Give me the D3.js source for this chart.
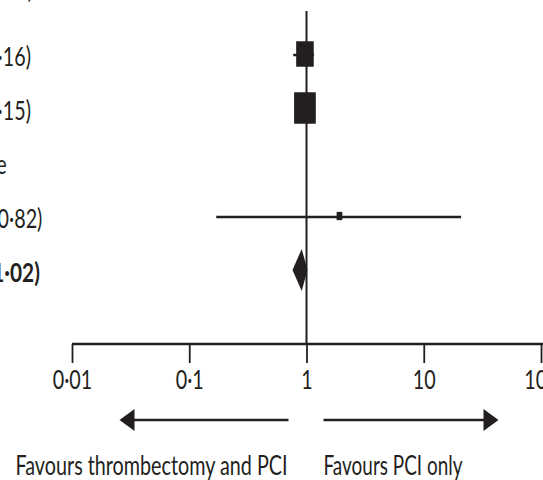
<!DOCTYPE html>
<html>
<head>
<meta charset="utf-8">
<script src="https://cdn.jsdelivr.net/npm/d3@7"></script>
<style>
  body { margin: 0; background: #fff; }
  svg { display: block; }
  text { font-family: Lato, "Liberation Sans", sans-serif; fill: #231f20; }
</style>
</head>
<body>
<span></span>
<script>
// forest plot, cropped view: rows of risk ratios on a log axis

var rowLabels = ["0·97 (0·77–1·16)", "0·97 (0·84–1·15)", "Not estimable", "1·91 (0·17–20·82)", "0·91 (0·76–1·02)"];
var estimates = [0.97, 0.97, null, 1.91, 0.91];
var lower     = [0.77, 0.84, null, 0.17, 0.76];
var upper     = [1.16, 1.15, null, 20.82, 1.02];
var weights   = [38, 58, null, 4, null];
var isTotal   = [false, false, false, false, true];
var tickValues = [0.01, 0.1, 1, 10, 100];
var headerLabel = "Risk ratio (95% CI)";
var leftNote = "Favours thrombectomy and PCI";
var rightNote = "Favours PCI only";

var width = 543, height = 480;
var ink = "#231f20";
var squeeze = 0.76;

var svg = d3.select("span")
    .append("svg")
    .attr("width", width)
    .attr("height", height);

var x = d3.scaleLog()
    .domain([0.01, 100])
    .range([72, 541]);

var y = d3.scaleLinear()
    .domain([0, 4])
    .range([54, 270]);

var axisY = 344;
var size = d3.scaleSqrt().domain([0, 58]).range([0, 21.7]);

// reference line at 1
svg.append("line")
    .attr("x1", x(1)).attr("x2", x(1))
    .attr("y1", 11).attr("y2", axisY)
    .attr("stroke", ink)
    .attr("stroke-width", 2);

var rows = rowLabels.map(function(d, i) {
    return {label: d, est: estimates[i], lo: lower[i], hi: upper[i], w: weights[i], total: isTotal[i]};
});

// confidence intervals
svg.append("g")
    .selectAll("line")
    .data(rows.filter(d => d.est != null && !d.total))
    .join("line")
    .attr("x1", d => x(d.lo))
    .attr("x2", d => Math.min(x(d.hi), width + 5))
    .attr("y1", d => y(rows.indexOf(d)) + 1)
    .attr("y2", d => y(rows.indexOf(d)) + 1)
    .attr("stroke", ink)
    .attr("stroke-width", 2.5);

// weighted squares
svg.append("g")
    .selectAll("rect")
    .data(rows.filter(d => d.est != null && !d.total))
    .join("rect")
    .attr("x", d => x(d.est) - size(d.w) / 2)
    .attr("y", d => y(rows.indexOf(d)) - size(d.w) * 1.45 / 2)
    .attr("width", d => size(d.w))
    .attr("height", d => size(d.w) * 1.45)
    .attr("fill", ink);

// pooled diamond
svg.append("g")
    .selectAll("path")
    .data(rows.filter(d => d.total))
    .join("path")
    .attr("d", function(d) {
        var cy = y(rows.indexOf(d)), h = 21;
        return "M" + x(d.lo) + "," + cy + "L" + x(d.est) + "," + (cy - h) +
            "L" + x(d.hi) + "," + cy + "L" + x(d.est) + "," + (cy + h) + "Z";
    })
    .attr("fill", ink);

// row text (left column, mostly cropped off the left edge)
var rowText = svg.append("g")
    .selectAll("text")
    .data(rows)
    .join("text")
    .attr("font-size", 26)
    .attr("font-weight", d => d.total ? "bold" : "normal")
    .text(d => d.label);

// column starts where the first row ends at x = 31
var firstW = rowText.node().getComputedTextLength() * squeeze;
var colX = 31 - firstW;
rowText.attr("transform", function(d, i) {
    var sx = squeeze;
    if (d.total) sx = (40 - colX) / this.getComputedTextLength();
    return `translate(${colX}, ${y(i) + 12}) scale(${sx}, 1)`;
});

svg.append("text")
    .attr("transform", `translate(33, -2) scale(${squeeze}, 1)`)
    .attr("text-anchor", "end")
    .attr("font-size", 26)
    .text(headerLabel);

// axis
var axis = svg.append("g")
    .attr("transform", `translate(0, ${axisY})`)
    .call(d3.axisBottom(x)
        .tickValues(tickValues)
        .tickSize(19)
        .tickSizeOuter(0)
        .tickPadding(8)
        .tickFormat(d => String(d).replace(".", "·")));

axis.select(".domain")
    .attr("d", `M${x(0.01)},0H${width + 5}`)
    .attr("stroke", ink)
    .attr("stroke-width", 2.5);
axis.selectAll(".tick line")
    .attr("stroke", ink)
    .attr("stroke-width", 1.8);
axis.selectAll(".tick text")
    .attr("font-size", 26)
    .attr("fill", ink)
    .attr("font-family", null)
    .attr("transform", `scale(${squeeze}, 1)`);

// direction arrows
var arrowY = 420;
function arrow(x0, x1) {
    var dir = x1 > x0 ? 1 : -1;
    svg.append("line")
        .attr("x1", x0).attr("x2", x1 - dir * 10)
        .attr("y1", arrowY).attr("y2", arrowY)
        .attr("stroke", ink)
        .attr("stroke-width", 2.5);
    svg.append("path")
        .attr("d", `M${x1},${arrowY}L${x1 - dir * 15},${arrowY - 11}L${x1 - dir * 15},${arrowY + 11}Z`)
        .attr("fill", ink);
}
arrow(x(1) - 18, x(1) - 187);
arrow(x(1) + 17, x(1) + 192);

svg.append("text")
    .attr("x", x(1) - 19)
    .attr("y", 475)
    .attr("text-anchor", "end")
    .attr("font-size", 27)
    .attr("textLength", 272)
    .attr("lengthAdjust", "spacingAndGlyphs")
    .text(leftNote);

svg.append("text")
    .attr("x", x(1) + 17)
    .attr("y", 475)
    .attr("font-size", 27)
    .attr("textLength", 139)
    .attr("lengthAdjust", "spacingAndGlyphs")
    .text(rightNote);
</script>
</body>
</html>
